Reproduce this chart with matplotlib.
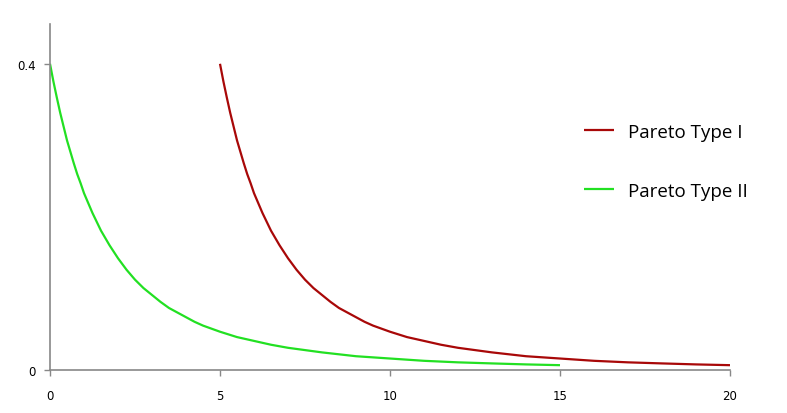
import matplotlib.pyplot as plt

# values
x_type1 = [5.0, 5.1, 5.2, 5.3, 5.4, 5.5, 5.6, 5.7, 5.8, 5.9, 6.0, 6.25, 6.5, 6.75, 7.0, 7.25, 7.5, 7.75,
           8.0, 8.25, 8.5, 8.75, 9.0, 9.25, 9.5, 9.75, 10, 10.5, 11, 11.5, 12, 13, 14, 15, 16, 17, 18, 19, 20]
y_type1 = [0.400, 0.377, 0.356, 0.336, 0.318, 0.300, 0.285, 0.270, 0.256, 0.244, 0.231, 0.205, 0.182,
           0.163, 0.146, 0.131, 0.118, 0.107, 0.098, 0.089, 0.081, 0.075, 0.069, 0.063, 0.058, 0.054,
           0.050, 0.043, 0.038, 0.033, 0.029, 0.023, 0.018, 0.015, 0.012, 0.010, 0.0086, 0.0073, 0.0063]
x_type2 = [0.0, 0.1, 0.2, 0.3, 0.4, 0.5, 0.6, 0.7, 0.8, 0.9, 1.0, 1.25, 1.5, 1.75, 2.0, 2.25, 2.5, 2.75,
           3.0, 3.25, 3.5, 3.75, 4.0, 4.25, 4.5, 4.75, 5, 5.5, 6, 6.5, 7, 8, 9, 10, 11, 12, 13, 14, 15]
y_type2 = [0.400, 0.377, 0.356, 0.336, 0.318, 0.300, 0.285, 0.270, 0.256, 0.244, 0.231, 0.205, 0.182,
           0.163, 0.146, 0.131, 0.118, 0.107, 0.098, 0.089, 0.081, 0.075, 0.069, 0.063, 0.058, 0.054,
           0.050, 0.043, 0.038, 0.033, 0.029, 0.023, 0.018, 0.015, 0.012, 0.010, 0.0086, 0.0073, 0.0063]
labels = ["Pareto Type I", "Pareto Type II"]
xticks = [0, 5, 10, 15, 20]
yticks = [0, 0.4]

fig = plt.figure(figsize=(7.87, 4.14), dpi=100)
ax = fig.add_axes([50 / 787, 43 / 414, 680 / 787, 346 / 414])

ax.plot(x_type1, y_type1, color="#a80808", lw=1.6, label=labels[0], solid_capstyle="butt")
ax.plot(x_type2, y_type2, color="#22e022", lw=1.6, label=labels[1], solid_capstyle="butt")

ax.set_xlim(0, 20)
ax.set_ylim(0, 0.452)
ax.set_xticks(xticks)
ax.set_xticklabels([str(t) for t in xticks])
ax.set_yticks(yticks)
ax.set_yticklabels(["0", "0.4"])
ax.tick_params(colors="#888888", labelcolor="black", labelsize=8.5, length=4, width=1)
ax.tick_params(axis="x", pad=10)
ax.tick_params(axis="y", pad=6)

for s in ["top", "right"]:
    ax.spines[s].set_visible(False)
for s in ["left", "bottom"]:
    ax.spines[s].set_color("#888888")
    ax.spines[s].set_linewidth(1.2)

leg = ax.legend(loc="upper left", bbox_to_anchor=(0.785, 0.715), frameon=False,
                prop={"family": "Open Sans", "size": 13.5}, handlelength=1.6, handletextpad=0.75,
                labelspacing=2.2, borderaxespad=0, borderpad=0)

fig.savefig("out.png", dpi=100)
